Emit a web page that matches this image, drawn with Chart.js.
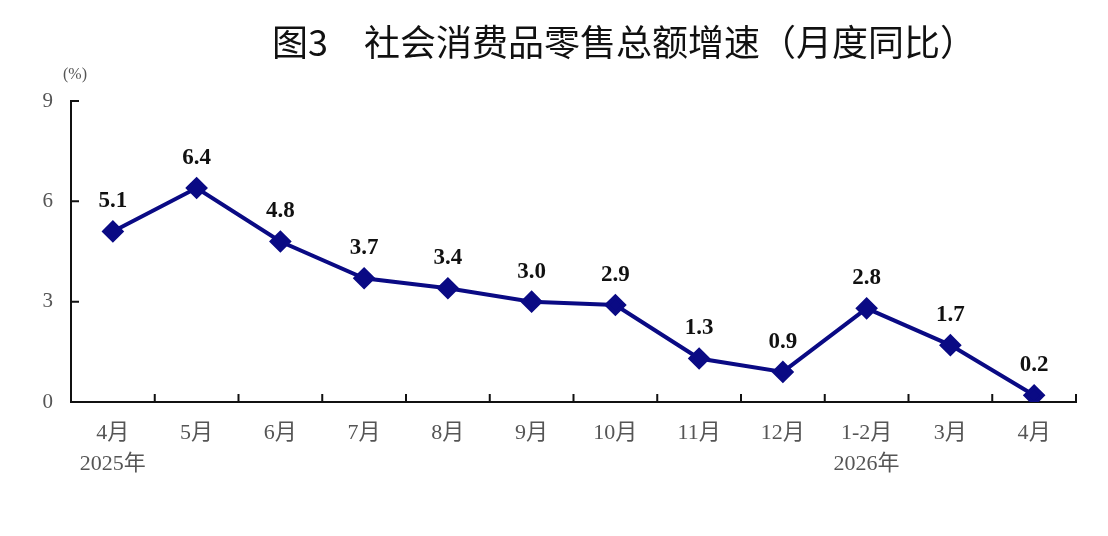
<!DOCTYPE html>
<html>
<head>
<meta charset="utf-8">
<script src="https://cdn.jsdelivr.net/npm/chart.js@4"></script>
<style>
  html, body { margin: 0; padding: 0; background: #fff; }
  #wrap { width: 1108px; height: 536px; }
</style>
</head>
<body>
<div id="wrap"><canvas id="retailChart" width="1108" height="536"></canvas></div>
<script>
// Data
const titleText = '图3　社会消费品零售总额增速（月度同比）';
const unitText = '(%)';
const categories = [['4月', '2025年'], '5月', '6月', '7月', '8月', '9月', '10月', '11月', '12月', ['1-2月', '2026年'], '3月', '4月'];
const growthValues = [5.1, 6.4, 4.8, 3.7, 3.4, 3.0, 2.9, 1.3, 0.9, 2.8, 1.7, 0.2];
const yTickValues = [0, 3, 6, 9];

const serif = '"Liberation Serif", "Times New Roman", "Noto Sans CJK SC", serif';
const lineColor = '#0a0a84';

// Title, unit label, inward tick marks and value labels
const decorPlugin = {
    id: 'decor',
    afterDraw(chart) {
        const ctx = chart.ctx;
        const x = chart.scales.x;
        const y = chart.scales.y;
        const area = chart.chartArea;
        ctx.save();

        // title
        ctx.fillStyle = '#111';
        ctx.font = '36px "Noto Sans CJK SC", sans-serif';
        ctx.textAlign = 'center';
        ctx.textBaseline = 'middle';
        ctx.fillText(titleText, 624, 42);

        // unit
        ctx.fillStyle = '#555';
        ctx.font = '16px ' + serif;
        ctx.fillText(unitText, 75, 75);

        // tick marks pointing into the plot
        ctx.strokeStyle = '#111';
        ctx.lineWidth = 2;
        ctx.beginPath();
        yTickValues.forEach(v => {
            if (v === 0) return;
            const py = y.getPixelForValue(v);
            ctx.moveTo(area.left, py);
            ctx.lineTo(area.left + 8, py);
        });
        for (let i = 1; i <= categories.length; i++) {
            const px = (x.getPixelForValue(i - 1) + (i < categories.length ? x.getPixelForValue(i) : 2 * x.getPixelForValue(i - 1) - x.getPixelForValue(i - 2))) / 2;
            ctx.moveTo(px, area.bottom);
            ctx.lineTo(px, area.bottom - 8);
        }
        ctx.stroke();

        // value labels
        const meta = chart.getDatasetMeta(0);
        ctx.fillStyle = '#111';
        ctx.font = 'bold 23px ' + serif;
        ctx.textAlign = 'center';
        ctx.textBaseline = 'middle';
        meta.data.forEach((pt, i) => {
            ctx.fillText(growthValues[i].toFixed(1), pt.x, pt.y - 30);
        });
        ctx.restore();
    }
};

const ctx = document.getElementById('retailChart').getContext('2d');
const retailChart = new Chart(ctx, {
    type: 'line',
    data: {
        labels: categories,
        datasets: [{
            data: growthValues,
            borderColor: lineColor,
            backgroundColor: lineColor,
            borderWidth: 4,
            pointStyle: 'rectRot',
            pointRadius: 8.5,
            pointHoverRadius: 8.5,
            tension: 0,
            fill: false
        }]
    },
    options: {
        responsive: false,
        animation: false,
        layout: { padding: { top: 101, right: 32, left: 0, bottom: 0 } },
        plugins: {
            legend: { display: false },
            tooltip: { enabled: false },
            title: { display: false }
        },
        scales: {
            x: {
                offset: true,
                grid: { display: false, drawTicks: false },
                border: { display: true, color: '#111', width: 2 },
                ticks: {
                    color: '#555',
                    font: { family: serif, size: 22, lineHeight: 1.4 },
                    padding: 16,
                    maxRotation: 0,
                    autoSkip: false
                },
                afterFit(scale) { scale.height = 134; }
            },
            y: {
                min: 0,
                max: 9,
                afterBuildTicks(scale) { scale.ticks = yTickValues.map(v => ({ value: v })); },
                grid: { display: false, drawTicks: false },
                border: { display: true, color: '#111', width: 2 },
                ticks: {
                    color: '#555',
                    font: { family: serif, size: 21 },
                    padding: 18
                },
                afterFit(scale) { scale.width = 71; }
            }
        }
    },
    plugins: [decorPlugin]
});
</script>
</body>
</html>
